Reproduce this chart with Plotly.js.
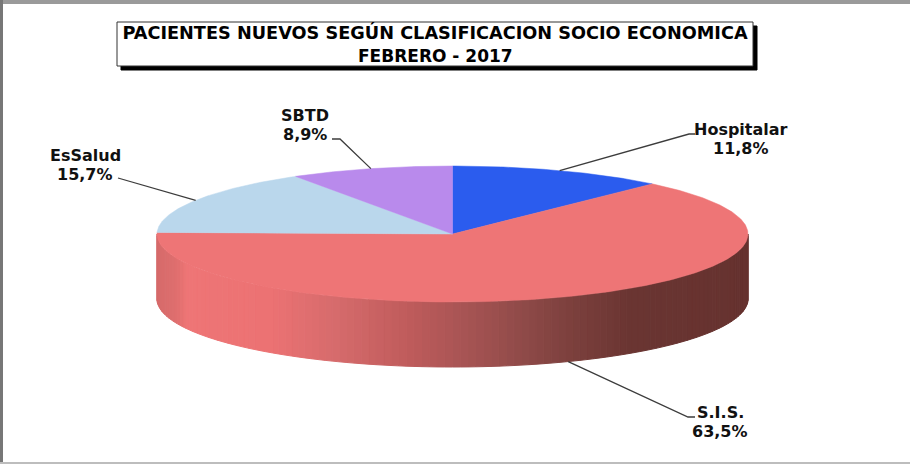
<!DOCTYPE html>
<html>
<head>
<meta charset="utf-8">
<script src="https://cdn.plot.ly/plotly-3.0.1.min.js"></script>
<style>html,body{margin:0;padding:0;background:#fff;overflow:hidden}#chart{width:910px;height:464px}</style>
</head>
<body>
<div id="chart"></div>
<script>
// Data
const categories = ['Hospitalar', 'S.I.S.', 'EsSalud', 'SBTD'];
const values = [11.8, 63.5, 15.7, 8.9];
const titleLines = ['PACIENTES NUEVOS SEGÚN CLASIFICACION SOCIO ECONOMICA', 'FEBRERO - 2017'];

// Style
const sliceColors = ['#2b5cee', '#ee7576', '#bad7ec', '#b98aec'];
const sideStopsAt = [0, 0.03, 0.05, 0.19, 0.3, 0.42, 0.5, 0.62, 0.7, 0.8, 1];
const sideStopsRGB = [[214,106,106],[222,110,110],[238,117,118],[236,114,115],[214,107,108],[192,92,92],[172,86,86],[143,74,72],[124,64,61],[106,53,50],[102,50,47]];

// Layout of the pseudo-3D pie, in pixels of the axes
const cx = 452.5, cy = 234, rx = 295.5, ry = 68, depth = 65;
const labelCenters = [[741, 129, 148], [720, 412, 431], [85, 155, 174], [305, 115, 134]];
const elbows = [[689, 134, 695], [688, 417, 695], [120, 178, 118], [340, 139, 332]];

const total = values.reduce((a, b) => a + b, 0);
const pt = (deg, dy = 0) => {
  const r = deg * Math.PI / 180;
  return [cx + rx * Math.sin(r), cy - ry * Math.cos(r) + dy];
};
const traces = [];

function colorAt(f) {
  let i = 0;
  while (i < sideStopsAt.length - 2 && f > sideStopsAt[i + 1]) i++;
  const t = Math.min(1, Math.max(0, (f - sideStopsAt[i]) / (sideStopsAt[i + 1] - sideStopsAt[i])));
  const c = sideStopsRGB[i].map((v, k) => Math.round(v + (sideStopsRGB[i + 1][k] - v) * t));
  return `rgb(${c.join(',')})`;
}

// Side wall strips: visible half of the rim (90deg .. 270deg clockwise from top)
const strips = 120;
for (let i = 0; i < strips; i++) {
  const a = 90 + 180 * i / strips, b = 90 + 180 * (i + 1) / strips;
  const p = [pt(a), pt(b), pt(b, depth), pt(a, depth), pt(a)];
  const f = (pt((a + b) / 2)[0] - (cx - rx)) / (2 * rx);
  const col = colorAt(f);
  traces.push({x: p.map(q => q[0]), y: p.map(q => q[1]), type: 'scatter', mode: 'lines',
    fill: 'toself', fillcolor: col, line: {color: col, width: 1}, hoverinfo: 'skip', showlegend: false});
}

// Top face wedges and leader lines, from the values
let cum = 0;
const mids = [];
values.forEach((v, idx) => {
  const start = cum / total * 360, end = (cum + v) / total * 360;
  cum += v;
  mids.push((start + end) / 2);
  const xs = [cx], ys = [cy];
  const n = Math.ceil((end - start) / 0.5);
  for (let k = 0; k <= n; k++) {
    const q = pt(start + (end - start) * k / n);
    xs.push(q[0]); ys.push(q[1]);
  }
  xs.push(cx); ys.push(cy);
  traces.push({x: xs, y: ys, type: 'scatter', mode: 'lines', fill: 'toself',
    fillcolor: sliceColors[idx], line: {color: sliceColors[idx], width: 0.5},
    name: categories[idx], hoverinfo: 'name', showlegend: false});
});
mids.forEach((m, idx) => {
  const a = pt(m, (m > 90 && m < 270) ? depth : 0);
  const e = elbows[idx];
  traces.push({x: [a[0], e[0], e[2]], y: [a[1], e[1], e[1]], type: 'scatter', mode: 'lines',
    line: {color: '#3c3c3c', width: 1.3}, hoverinfo: 'skip', showlegend: false});
});

const fmt = v => v.toFixed(1).replace('.', ',') + '%';
const note = (text, x, y) => ({x, y, xref: 'x', yref: 'y', text: `<b>${text}</b>`, showarrow: false,
  xanchor: 'center', yanchor: 'middle', align: 'center',
  font: {family: 'DejaVu Sans', size: 16, color: '#111'}});
const annotations = [];
categories.forEach((c, i) => {
  annotations.push(note(c, labelCenters[i][0], labelCenters[i][1]));
  annotations.push(note(fmt(values[i]), labelCenters[i][0], labelCenters[i][2]));
});
annotations.push(Object.assign(note(titleLines[1], 435, 56), {font: {family: 'DejaVu Sans', size: 17, color: '#000'}}));

const rect = (x0, y0, x1, y1, fill, lineCol, w) => ({type: 'rect', xref: 'x', yref: 'y', x0, y0, x1, y1,
  fillcolor: fill, line: {color: lineCol, width: w}, layer: 'below'});

const layout = {
  width: 910, height: 464,
  margin: {l: 0, r: 0, t: 0, b: 0},
  paper_bgcolor: '#fff', plot_bgcolor: '#fff',
  showlegend: false,
  xaxis: {range: [0, 910], visible: false, fixedrange: true},
  yaxis: {range: [464, 0], visible: false, fixedrange: true},
  title: {text: `<b>${titleLines[0]}</b>`, x: 435 / 910, xanchor: 'center',
    y: 1 - 33 / 464, yanchor: 'middle', xref: 'paper', yref: 'paper',
    font: {family: 'DejaVu Sans', size: 17.7, color: '#000'}},
  annotations,
  shapes: [
    rect(0, 0, 910, 4, '#9a9a9a', 'rgba(0,0,0,0)', 0),
    rect(0, 0, 3, 464, '#777777', 'rgba(0,0,0,0)', 0),
    rect(0, 462, 910, 464, '#bdbdbd', 'rgba(0,0,0,0)', 0),
    rect(121, 26, 757, 70, '#000', '#000', 1),
    rect(117, 22, 753, 66, '#fff', '#333', 1)
  ]
};
Plotly.newPlot('chart', traces, layout, {displayModeBar: false, staticPlot: true});
</script>
</body>
</html>
